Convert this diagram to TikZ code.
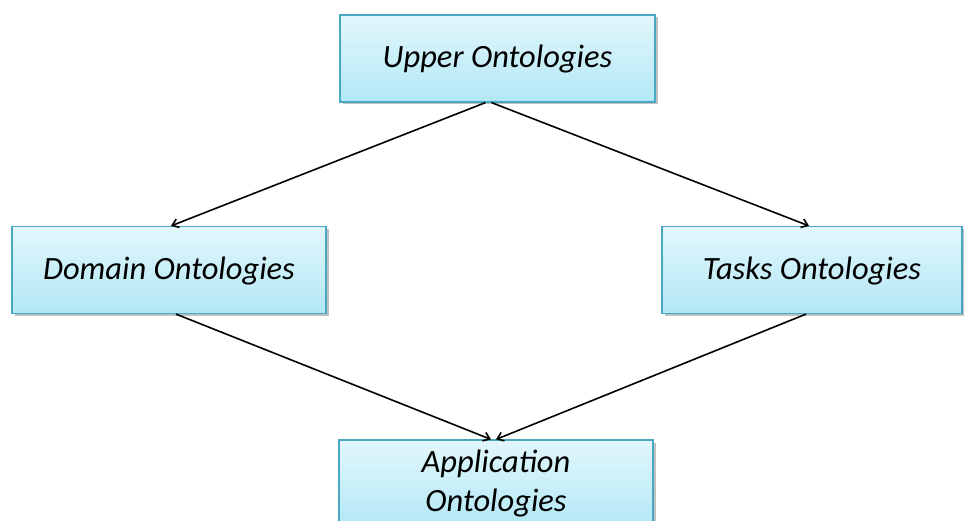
\documentclass[tikz,border=0pt]{standalone}
\usepackage{fontspec}
\setmainfont{Carlito}
\usetikzlibrary{arrows.meta,shadows}
\definecolor{boxtop}{RGB}{226,247,252}
\definecolor{boxbot}{RGB}{178,231,245}
\definecolor{boxedge}{RGB}{72,168,194}
\newcommand{\boxlabel}[1]{\raisebox{-9.5pt}[0pt][0pt]{#1}}
\tikzset{
  ontobox/.style={rectangle, draw=boxedge, line width=1.2pt,
    top color=boxtop, bottom color=boxbot,
    minimum width=#1, minimum height=87pt, inner sep=0pt,
    align=center, font=\itshape\fontsize{32.5}{39}\selectfont,
    drop shadow={shadow xshift=2.5pt, shadow yshift=-2.5pt, opacity=0.35, fill=black!70}},
  link/.style={line width=1.6pt, -{Straight Barb[length=6pt,width=9pt]}}
}
\begin{document}
\begin{tikzpicture}[x=1pt,y=-1pt]
  \useasboundingbox (0,0) rectangle (964,521);
  \clip (0,0) rectangle (964,521);
  \node[ontobox=315pt] (upper) at (497.5,58.5) {\boxlabel{Upper Ontologies}};
  \node[ontobox=314pt] (domain) at (169,270) {\boxlabel{Domain Ontologies}};
  \node[ontobox=300pt] (tasks) at (812,270) {\boxlabel{Tasks Ontologies}};
  \node[ontobox=314pt] (app) at (496,483.5) {Application\\Ontologies};
  \draw[link] ([xshift=-12pt]upper.south) -- ([xshift=2pt]domain.north);
  \draw[link] ([xshift=-6pt]upper.south) -- ([xshift=-3pt]tasks.north);
  \draw[link] ([xshift=7pt]domain.south) -- ([xshift=-5pt]app.north);
  \draw[link] ([xshift=-6pt]tasks.south) -- ([xshift=0pt]app.north);
\end{tikzpicture}
\end{document}
